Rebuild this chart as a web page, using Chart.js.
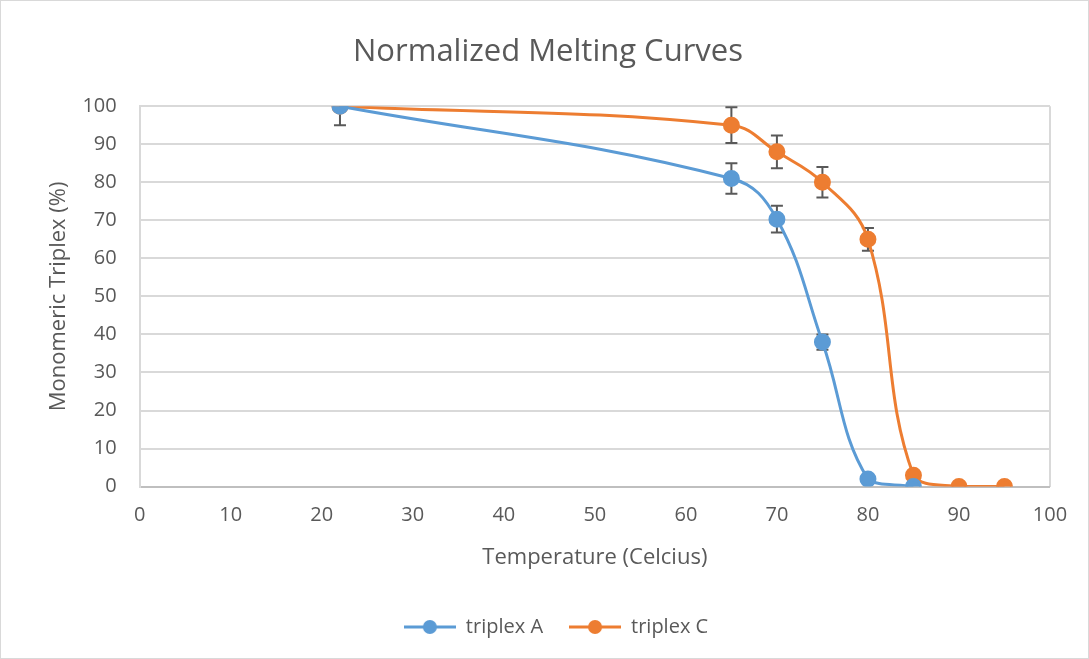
<!DOCTYPE html>
<html>
<head>
<meta charset="utf-8">
<script src="https://cdn.jsdelivr.net/npm/chart.js@4"></script>
<style>
  html, body { margin: 0; padding: 0; background: #fff; }
  #wrap { position: absolute; left: 0; top: 0; width: 1087px; height: 657px; border: 1px solid #d9d9d9; }
</style>
</head>
<body>
<div id="wrap"><canvas id="meltChart"></canvas></div>
<script>
// temperatures and normalized values
const tempA = [22, 65, 70, 75, 80, 85];
const valuesA = [100, 81, 70.3, 38, 2, 0];
const errorsA = [5, 4, 3.5, 2, 0, 0];

const tempC = [22, 65, 70, 75, 80, 85, 90, 95];
const valuesC = [100, 95, 88, 80, 65, 3, 0, 0];
const errorsC = [0, 4.7, 4.3, 4, 3, 0, 0, 0];

const xTicks = [0, 10, 20, 30, 40, 50, 60, 70, 80, 90, 100];
const yTicks = [0, 10, 20, 30, 40, 50, 60, 70, 80, 90, 100];

const BLUE = "#5b9bd5";
const ORANGE = "#ed7d31";
const FONT = "'Open Sans', 'Liberation Sans', sans-serif";

// legend marker: short line with a dot in the middle
const legendIcon = (color) => {
  const c = document.createElement("canvas");
  c.width = 52; c.height = 16;
  const g = c.getContext("2d");
  g.strokeStyle = color; g.lineWidth = 3;
  g.beginPath(); g.moveTo(0, 8); g.lineTo(52, 8); g.stroke();
  g.fillStyle = color;
  g.beginPath(); g.arc(26, 8, 7, 0, Math.PI * 2); g.fill();
  return c;
};

const toPoints = (xs, ys, errs) => xs.map((x, i) => ({ x, y: ys[i], err: errs[i] }));

// draws the error bars with the chart's scales
const errorBars = {
  id: "errorBars",
  afterLayout(chart) {
    // legend sits a little right of centre in the original
    chart.legend.left += 8;
    chart.legend.right += 8;
  },
  beforeDatasetsDraw(chart) {
    const { ctx, scales: { x, y } } = chart;
    ctx.save();
    ctx.strokeStyle = "#595959";
    ctx.lineWidth = 2;
    chart.data.datasets.forEach((ds) => {
      ds.data.forEach((p) => {
        if (!p.err) return;
        const px = x.getPixelForValue(p.x);
        const top = y.getPixelForValue(Math.min(p.y + p.err, 100));
        const bot = y.getPixelForValue(p.y - p.err);
        ctx.beginPath();
        ctx.moveTo(px, top); ctx.lineTo(px, bot);
        if (p.y + p.err <= 100) { ctx.moveTo(px - 6, top); ctx.lineTo(px + 6, top); }
        ctx.moveTo(px - 6, bot); ctx.lineTo(px + 6, bot);
        ctx.stroke();
      });
    });
    ctx.restore();
  },
};

new Chart(document.getElementById("meltChart"), {
  type: "scatter",
  data: {
    datasets: [
      {
        label: "triplex A",
        data: toPoints(tempA, valuesA, errorsA),
        borderColor: BLUE,
        backgroundColor: BLUE,
        showLine: true,
        tension: 0.4,
        borderWidth: 3,
        pointRadius: 7,
        pointHoverRadius: 7,
        pointStyle: "circle",
      },
      {
        label: "triplex C",
        data: toPoints(tempC, valuesC, errorsC),
        borderColor: ORANGE,
        backgroundColor: ORANGE,
        showLine: true,
        tension: 0.4,
        borderWidth: 3,
        pointRadius: 7,
        pointHoverRadius: 7,
        pointStyle: "circle",
      },
    ],
  },
  options: {
    responsive: true,
    maintainAspectRatio: false,
    animation: false,
    layout: { padding: { left: 45, right: 38, top: 10, bottom: 11 } },
    plugins: {
      title: {
        display: true,
        text: "Normalized Melting Curves",
        color: "#595959",
        font: { family: FONT, size: 31, weight: "normal" },
        padding: { top: 23, bottom: 35 },
      },
      legend: {
        position: "bottom",
        labels: {
          usePointStyle: true,
          pointStyleWidth: 52,
          color: "#595959",
          font: { family: FONT, size: 20 },
          padding: 26,
          generateLabels: (chart) =>
            chart.data.datasets.map((ds, i) => ({
              text: ds.label,
              pointStyle: legendIcon(ds.borderColor),
              fillStyle: ds.borderColor,
              strokeStyle: ds.borderColor,
              lineWidth: 0,
              fontColor: "#595959",
              datasetIndex: i,
              hidden: false,
            })),
        },
      },
      tooltip: { enabled: false },
    },
    scales: {
      x: {
        type: "linear",
        min: 0,
        max: 100,
        afterBuildTicks: (axis) => { axis.ticks = xTicks.map((v) => ({ value: v })); },
        ticks: { color: "#595959", font: { family: FONT, size: 20 }, padding: 17 },
        grid: {
          color: (c) => (c.tick && c.tick.value === 100 ? "#d9d9d9" : "transparent"),
          lineWidth: 2,
          drawTicks: false,
        },
        border: { display: false },
        title: {
          display: true,
          text: "Temperature (Celcius)",
          color: "#595959",
          font: { family: FONT, size: 22 },
          padding: { top: 0, bottom: 20 },
        },
      },
      y: {
        min: 0,
        max: 100,
        afterBuildTicks: (axis) => { axis.ticks = yTicks.map((v) => ({ value: v })); },
        ticks: { color: "#595959", font: { family: FONT, size: 20 }, padding: 23 },
        grid: {
          color: (c) => (c.tick && c.tick.value === 0 ? "#bfbfbf" : "#d9d9d9"),
          lineWidth: 2,
          drawTicks: false,
        },
        border: { display: true, color: "#d9d9d9", width: 2 },
        title: {
          display: true,
          text: "Monomeric Triplex (%)",
          color: "#595959",
          font: { family: FONT, size: 22 },
          padding: { top: 0, bottom: -13 },
        },
      },
    },
  },
  plugins: [errorBars],
});
</script>
</body>
</html>
